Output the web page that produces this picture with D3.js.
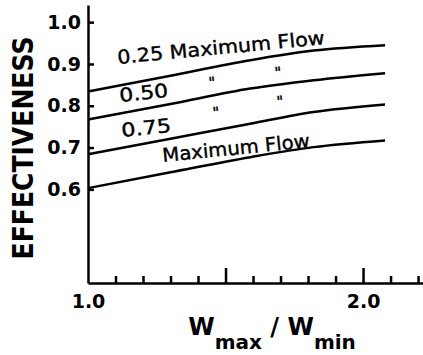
<!DOCTYPE html>
<html lang="en">
<head>
    <meta charset="UTF-8">
    <title>Effectiveness vs Wmax/Wmin</title>
    <script src="https://d3js.org/d3.v7.min.js"></script>
    <style>
        body {margin: 0; background: #fff}
        text {
            font-family: 'DejaVu Sans', sans-serif;
            font-weight: bold;
            fill: #000;
        }
        text.note {font-weight: normal; stroke: #000; stroke-width: 0.4}
        .domain, .tick line {stroke: #000; stroke-width: 2.5}
    </style>
</head>
<body>
<script>
    const width  = 423;
    const height = 355;

    // flow ratio along the x axis (Wmax / Wmin)
    const ratio = [1.0, 1.3, 1.59, 1.82, 2.08];

    // effectiveness for each flow case
    const flow25  = [0.834, 0.872, 0.909, 0.932, 0.945];
    const flow50  = [0.767, 0.804, 0.841, 0.861, 0.878];
    const flow75  = [0.684, 0.721, 0.757, 0.785, 0.803];
    const flowMax = [0.603, 0.641, 0.677, 0.701, 0.717];

    const yTicks      = [0.6, 0.7, 0.8, 0.9, 1.0];
    const xMinorTicks = [1.1, 1.2, 1.3, 1.4, 1.6, 1.7, 1.8, 1.9, 2.1, 2.2];
    const xMajorTicks = [1.5, 2.0];
    const xLabels     = [1.0, 2.0];

    const x = d3.scaleLinear().domain([1.0, 2.218]).range([88, 423]);
    const y = d3.scaleLinear().domain([0.376, 1.041]).range([283, 5]);

    const svg = d3.select("body")
            .append("svg")
            .attr("width", width)
            .attr("height", height);

    // y axis, ticks pointing inward
    svg.append("g")
       .attr("transform", "translate(" + x(1.0) + ",0)")
       .call(d3.axisLeft(y).tickValues(yTicks).tickSize(-6).tickSizeOuter(0)
               .tickPadding(7).tickFormat(d3.format(".1f")))
       .selectAll("text")
       .style("font-size", "19px")
       .style("font-family", "'DejaVu Sans', sans-serif");

    // x axis: minor ticks, major ticks, labels
    const xg = svg.append("g").attr("transform", "translate(0," + y.range()[0] + ")");
    xg.call(d3.axisBottom(x).tickValues(xMinorTicks).tickSize(-7).tickSizeOuter(0).tickFormat(""));
    xg.append("g")
      .call(d3.axisBottom(x).tickValues(xMajorTicks).tickSize(-15).tickSizeOuter(0).tickFormat(""))
      .select(".domain").remove();
    xg.append("g")
      .call(d3.axisBottom(x).tickValues(xLabels).tickSize(0).tickPadding(12).tickFormat(d3.format(".1f")))
      .call(g => g.select(".domain").remove())
      .selectAll("text")
      .style("font-size", "19px")
      .style("font-family", "'DejaVu Sans', sans-serif");

    // curves
    const line = d3.line()
            .x((d, i) => x(ratio[i]))
            .y(d => y(d))
            .curve(d3.curveMonotoneX);

    svg.selectAll("path.curve")
       .data([flow25, flow50, flow75, flowMax])
       .enter()
       .append("path")
       .attr("class", "curve")
       .attr("d", d => line(d))
       .style("fill", "none")
       .style("stroke", "#000")
       .style("stroke-width", 2.5);

    // annotations on the curves
    function label(txt, px, py, rot, size, len) {
        const t = svg.append("text")
           .attr("class", "note")
           .attr("transform", "translate(" + px + "," + py + ") rotate(" + rot + ")")
           .style("font-size", size + "px")
           .text(txt);
        if (len) t.attr("textLength", len).attr("lengthAdjust", "spacingAndGlyphs");
        return t;
    }
    label("0.25 Maximum Flow", 118, 64, -5.5, 19, 208);
    label("0.50", 120, 102, -6, 19, 49);
    label("0.75", 122, 137, -6, 19, 50);
    label("Maximum Flow", 163, 162, -5.8, 19, 148);
    label("\"", 209, 88, -5, 15);
    label("\"", 275, 78, -5, 15);
    label("\"", 213, 118, -5, 15);
    label("\"", 277, 107, -5, 15);

    // axis titles
    svg.append("text")
       .attr("transform", "translate(33,148) rotate(-90)")
       .attr("text-anchor", "middle")
       .attr("textLength", 223)
       .attr("lengthAdjust", "spacingAndGlyphs")
       .style("font-size", "28px")
       .text("EFFECTIVENESS");

    const xt = svg.append("text")
       .attr("x", 272)
       .attr("y", 335)
       .attr("text-anchor", "middle")
       .style("font-size", "24px");
    xt.append("tspan").text("W");
    xt.append("tspan").attr("dy", 14).style("font-size", "20px").text("max");
    xt.append("tspan").attr("dy", -14).text(" / W");
    xt.append("tspan").attr("dy", 14).style("font-size", "20px").text("min");
</script>
</body>
</html>
